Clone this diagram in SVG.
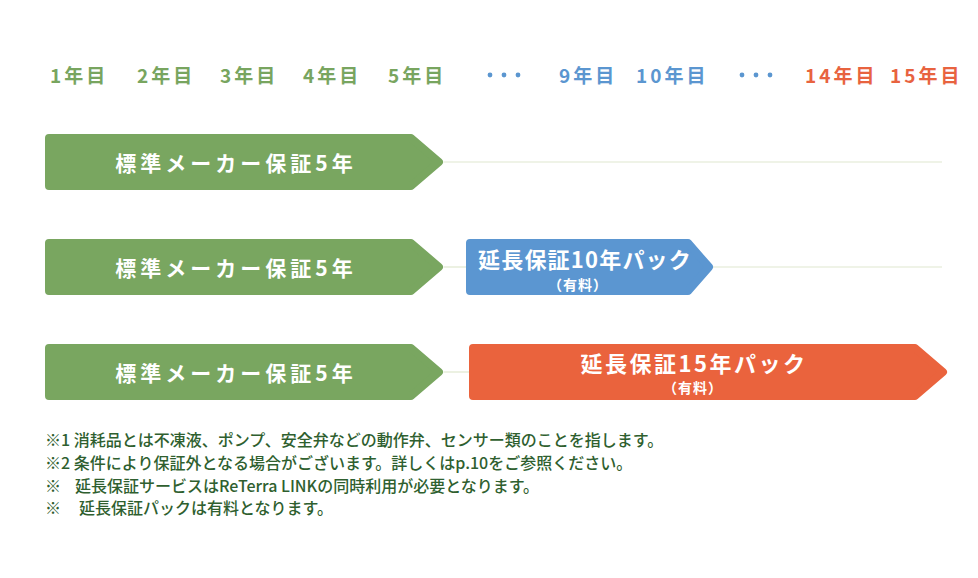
<svg xmlns="http://www.w3.org/2000/svg" width="978" height="578" viewBox="0 0 978 578">
<style>
text{font-family:"Noto Sans CJK JP","Noto Sans",sans-serif;}
.yr{font-size:19px;font-weight:700;letter-spacing:3px;dominant-baseline:central;}
.g{fill:#78a55f;}
.b{fill:#5b96d0;}
.o{fill:#e8633f;}
.arrow{stroke-width:8;stroke-linejoin:round;}
.ga{fill:#79a660;stroke:#79a660;}
.ba{fill:#5b96d1;stroke:#5b96d1;}
.oa{fill:#ea633d;stroke:#ea633d;}
.lbl{fill:#fff;font-weight:700;text-anchor:middle;dominant-baseline:central;}
.conn{stroke:#e0e8cf;stroke-width:1.2;fill:none;}
.note{fill:#2f5f2f;font-size:16px;font-weight:500;}
</style>
<rect width="978" height="578" fill="#fff"/>
<g id="years">
<text class="yr g" x="50" y="74">1年目</text>
<text class="yr g" x="137" y="74">2年目</text>
<text class="yr g" x="220" y="74">3年目</text>
<text class="yr g" x="303" y="74">4年目</text>
<text class="yr g" x="388" y="74">5年目</text>
<g class="b"><circle cx="490" cy="75" r="2.4"/><circle cx="504" cy="75" r="2.4"/><circle cx="518" cy="75" r="2.4"/></g>
<text class="yr b" x="559" y="74">9年目</text>
<text class="yr b" x="636" y="74">10年目</text>
<g class="b"><circle cx="742" cy="75" r="2.4"/><circle cx="756" cy="75" r="2.4"/><circle cx="770" cy="75" r="2.4"/></g>
<text class="yr o" x="805" y="74">14年目</text>
<text class="yr o" x="890" y="74">15年目</text>
</g>
<g id="connectors">
<line class="conn" x1="444" y1="162" x2="942" y2="162"/>
<line class="conn" x1="444" y1="267" x2="466" y2="267"/>
<line class="conn" x1="713" y1="267" x2="942" y2="267"/>
<line class="conn" x1="444" y1="372" x2="469" y2="372"/>
</g>
<g id="std1">
<path class="arrow ga" d="M49,138 H411 L439,162 L411,186 H49 Z"/>
<text class="lbl" x="236" y="162" font-size="21" letter-spacing="4">標準メーカー保証5年</text>
</g>
<g id="std2">
<path class="arrow ga" d="M49,243 H411 L439,267 L411,291 H49 Z"/>
<text class="lbl" x="236" y="267" font-size="21" letter-spacing="4">標準メーカー保証5年</text>
</g>
<g id="std3">
<path class="arrow ga" d="M49,348 H411 L439,372 L411,396 H49 Z"/>
<text class="lbl" x="236" y="372" font-size="21" letter-spacing="4">標準メーカー保証5年</text>
</g>
<g id="ext10">
<path class="arrow ba" d="M470,243 H688 L709,267 L688,291 H470 Z"/>
<text class="lbl" x="585" y="258" font-size="22" letter-spacing="1.2">延長保証10年パック</text>
<text class="lbl" x="578" y="284" font-size="14" letter-spacing="1">（有料）</text>
</g>
<g id="ext15">
<path class="arrow oa" d="M473,348 H915 L943,372 L915,396 H473 Z"/>
<text class="lbl" x="694" y="362" font-size="22" letter-spacing="2.5">延長保証15年パック</text>
<text class="lbl" x="693" y="387" font-size="14" letter-spacing="1">（有料）</text>
</g>
<g id="notes">
<text class="note" x="45" y="446">※1 消耗品とは不凍液、ポンプ、安全弁などの動作弁、センサー類のことを指します。</text>
<text class="note" x="45" y="469">※2 条件により保証外となる場合がございます。詳しくはp.10をご参照ください。</text>
<text class="note" x="45" y="492">※</text>
<text class="note" x="75" y="492">延長保証サービスはReTerra LINKの同時利用が必要となります。</text>
<text class="note" x="45" y="514">※</text>
<text class="note" x="79" y="514">延長保証パックは有料となります。</text>
</g>
</svg>
